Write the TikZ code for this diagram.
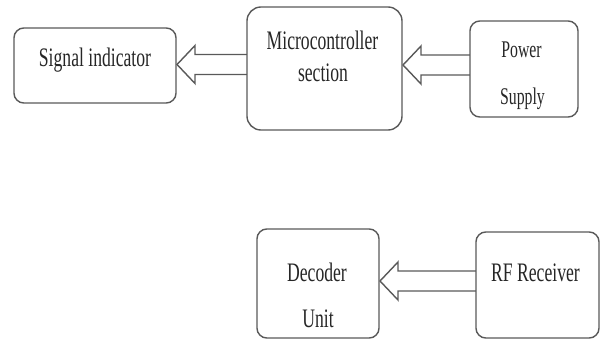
\documentclass[tikz,border=0pt]{standalone}
\usepackage{fontspec}
\setmainfont{Liberation Serif}[FakeStretch=0.66]
\usetikzlibrary{calc}
\tikzset{every picture/.style={line width=1pt}}

\begin{document}
\begin{tikzpicture}[x=0.025cm, y=-0.025cm,
    block/.style={draw=black!65, rounded corners=7pt, outer sep=0pt, inner sep=0pt},
    boxtext/.style={anchor=base, text=black!85, font=\fontsize{19}{22}\selectfont},
    hollow/.style={draw=black!65, line join=miter}]
    \useasboundingbox (0,0) rectangle (600,341);
    % blocks
    \node[block, minimum width=4.05cm, minimum height=1.875cm] (sig) at (95,65.5) {};
    \node[block, rounded corners=10pt, minimum width=3.875cm, minimum height=3.075cm] (mc) at (324.5,68.5) {};
    \node[block, minimum width=2.7cm, minimum height=2.4cm] (ps) at (524,69) {};
    \node[block, minimum width=3.05cm, minimum height=2.725cm] (dec) at (318,283.5) {};
    \node[block, minimum width=3.075cm, minimum height=2.65cm] (rf) at (537.5,285) {};
    % texts
    \node[boxtext] (sigtxt) at (95,67) {Signal indicator};
    \node[boxtext] (mctxta) at (322.5,50) {Microcontroller};
    \node[boxtext] (mctxtb) at (323,82) {section};
    \node[boxtext, font=\fontsize{17}{20}\selectfont] (pstxta) at (521.5,58) {Power};
    \node[boxtext, font=\fontsize{17}{20}\selectfont] (pstxtb) at (522.5,105) {Supply};
    \node[boxtext] (dectxta) at (317,281) {Decoder};
    \node[boxtext] (dectxtb) at (318,327) {Unit};
    \node[boxtext] (rftxt) at (535.5,281) {RF Receiver};
    % hollow arrows
    \foreach \src/\dst in {mc/sig, ps/mc, rf/dec} {
        \coordinate (tail) at ($(\src.west)+(0,-4)$);
        \coordinate (tip) at ($(\dst.east |- tail)+(1,0)$);
        \draw[hollow] ($(tail)+(0,-10)$) -- ($(tip)+(18,-10)$) -- ($(tip)+(18,-19)$) -- (tip)
            -- ($(tip)+(18,19)$) -- ($(tip)+(18,10)$) -- ($(tail)+(0,10)$);
    }
\end{tikzpicture}
\end{document}
